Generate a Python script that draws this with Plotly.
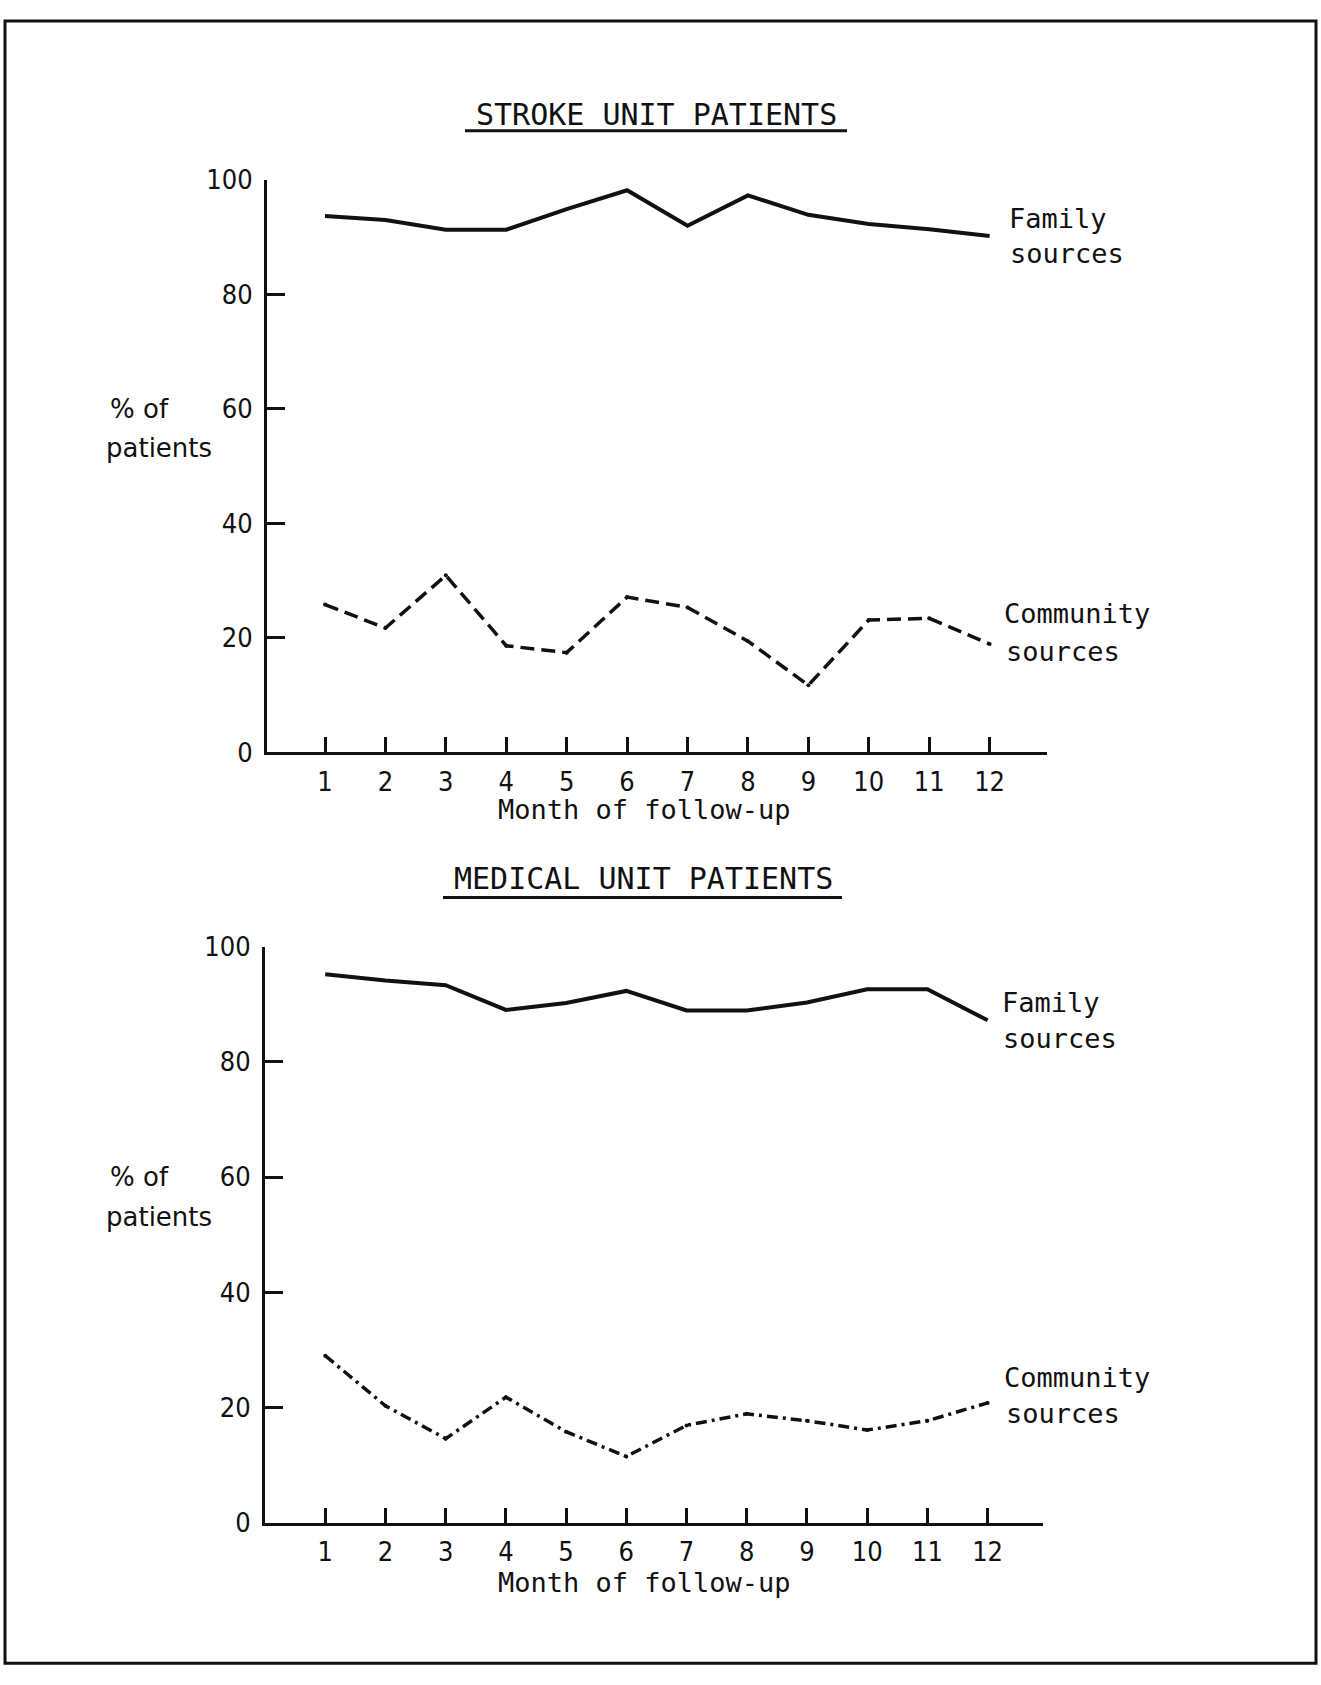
import plotly.graph_objects as go

# ---------------- data ----------------
months = [1, 2, 3, 4, 5, 6, 7, 8, 9, 10, 11, 12]
month_labels = [str(m) for m in months]

stroke_family = [93.7, 93.0, 91.3, 91.3, 94.9, 98.2, 92.0, 97.3, 93.9, 92.3, 91.4, 90.2]
stroke_community = [25.8, 21.7, 30.9, 18.6, 17.4, 27.1, 25.3, 19.4, 11.7, 23.1, 23.4, 18.9]

medical_family = [95.2, 94.1, 93.3, 89.0, 90.2, 92.3, 88.9, 88.9, 90.3, 92.6, 92.6, 87.2]
medical_community = [29.0, 20.3, 14.6, 21.8, 15.8, 11.5, 16.9, 18.9, 17.7, 16.1, 17.7, 20.8]

y_ticks = [0, 20, 40, 60, 80, 100]
y_tick_labels = [str(v) for v in y_ticks]

# ---------------- layout helpers ----------------
W, H = 1321, 1685
FONT = "DejaVu Sans Condensed, DejaVu Sans, sans-serif"
TXT = "DejaVu Sans Mono, DejaVu Sans, monospace"
SANS = "DejaVu Sans, sans-serif"
INK = "#111111"


def px(x):
    return x / W


def py(y):
    return 1 - y / H


fig = go.Figure()

# top panel
fig.add_trace(go.Scatter(x=months, y=stroke_family, mode="lines",
                         line=dict(color=INK, width=4), xaxis="x", yaxis="y",
                         showlegend=False))
fig.add_trace(go.Scatter(x=months, y=stroke_community, mode="lines+markers",
                         line=dict(color=INK, width=3.5, dash="14px,7px"),
                         marker=dict(size=4, color=INK), xaxis="x", yaxis="y",
                         showlegend=False))
# bottom panel
fig.add_trace(go.Scatter(x=months, y=medical_family, mode="lines",
                         line=dict(color=INK, width=4), xaxis="x2", yaxis="y2",
                         showlegend=False))
fig.add_trace(go.Scatter(x=months, y=medical_community, mode="lines+markers",
                         line=dict(color=INK, width=3.5, dash="11px,5px,3px,5px"),
                         marker=dict(size=4, color=INK), xaxis="x2", yaxis="y2",
                         showlegend=False))

xcommon = dict(tickmode="array", tickvals=months, ticktext=month_labels,
               showline=True, linecolor=INK, linewidth=3,
               ticks="inside", ticklen=15, tickwidth=2.5, tickcolor=INK,
               showgrid=False, zeroline=False,
               tickfont=dict(family=FONT, size=27, color=INK),
               ticklabelstandoff=3)
ycommon = dict(range=[0, 100], tickmode="array", tickvals=y_ticks,
               ticktext=y_tick_labels,
               showline=True, linecolor=INK, linewidth=3,
               ticks="inside", ticklen=18, tickwidth=3, tickcolor=INK,
               showgrid=False, zeroline=False,
               tickfont=dict(family=FONT, size=27, color=INK),
               ticklabelstandoff=6)

fig.update_layout(
    width=W, height=H,
    margin=dict(l=0, r=0, t=0, b=0),
    paper_bgcolor="white", plot_bgcolor="white",
    xaxis=dict(domain=[px(267), px(1047)], range=[0.04, 12.95], anchor="y", **xcommon),
    yaxis=dict(domain=[py(750), py(167)], anchor="x", **ycommon),
    xaxis2=dict(domain=[px(265), px(1043)], range=[0.0, 12.92], anchor="y2", **xcommon),
    yaxis2=dict(domain=[py(1535), py(948)], anchor="x2", **ycommon),
)

annotations = []


def ann(text, x, y, size=27, xanchor="left", family=TXT):
    annotations.append(dict(text=text, x=px(x), y=py(y), xref="paper", yref="paper",
                            xanchor=xanchor, yanchor="middle", showarrow=False,
                            font=dict(family=family, size=size, color=INK)))


# titles
ann("STROKE UNIT PATIENTS", 656, 100, size=30, xanchor="center")
ann("MEDICAL UNIT PATIENTS", 643, 879, size=30, xanchor="center")
# x-axis titles
ann("Month of follow-up", 644, 808, size=27, xanchor="center")
ann("Month of follow-up", 644, 1596, size=27, xanchor="center")
# y-axis titles (aligned with the 60 tick of each panel)
ann("% of", 108, 400, size=26, family=SANS)
ann("patients", 104, 440, size=26, family=SANS)
ann("% of", 108, 1183, size=26, family=SANS)
ann("patients", 104, 1224, size=26, family=SANS)
# series labels
ann("Family", 1007, 206, size=27)
ann("sources", 1008, 242, size=27)
ann("Community", 1002, 609, size=27)
ann("sources", 1004, 647, size=27)
ann("Family", 1000, 1005, size=27)
ann("sources", 1001, 1042, size=27)
ann("Community", 1002, 1387, size=27)
ann("sources", 1004, 1424, size=27)

fig.update_layout(annotations=annotations)

shapes = [
    # title underlines
    dict(type="line", xref="paper", yref="paper", x0=px(465), x1=px(847),
         y0=py(117), y1=py(117), line=dict(color=INK, width=3)),
    dict(type="line", xref="paper", yref="paper", x0=px(443), x1=px(842),
         y0=py(898), y1=py(898), line=dict(color=INK, width=3)),
    # outer frame
    dict(type="rect", xref="paper", yref="paper", x0=px(5), x1=px(1316),
         y0=py(1678), y1=py(5), line=dict(color=INK, width=3)),
]
fig.update_layout(shapes=shapes)

fig.write_html("out.html")
